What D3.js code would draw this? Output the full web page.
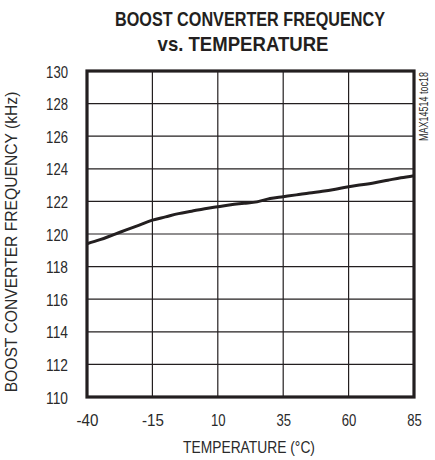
<!DOCTYPE html>
<html><head><meta charset="utf-8">
<script src="https://cdn.jsdelivr.net/npm/d3@7"></script>
<style>
html,body{margin:0;padding:0;background:#fff;}
svg{display:block;}
</style></head>
<body>
<script>
const titleLines = ["BOOST CONVERTER FREQUENCY", "vs. TEMPERATURE"];
const xLabel = "TEMPERATURE (°C)";
const yLabel = "BOOST CONVERTER FREQUENCY (kHz)";
const sideNote = "MAX14514 toc18";
const xTicks = [-40, -15, 10, 35, 60, 85];
const yTicks = [110, 112, 114, 116, 118, 120, 122, 124, 126, 128, 130];
const temps = [-40,-35,-30,-25,-20,-15,-10,-5,0,5,10,15,20,25,30,35,40,45,50,55,60,65,70,75,80,85];
const freqs = [119.4,119.65,119.95,120.25,120.55,120.85,121.05,121.25,121.4,121.55,121.67,121.8,121.88,121.97,122.18,122.29,122.4,122.52,122.62,122.75,122.9,123.02,123.15,123.3,123.45,123.58];

const W = 435, H = 460;
const L = 87, R = 414, T = 71, B = 397;
const svg = d3.select("body").append("svg").attr("width", W).attr("height", H);
const ink = "#231f20";
const fam = "'Liberation Sans',Arial,sans-serif";

const x = d3.scaleLinear().domain([-40, 85]).range([L, R]);
const y = d3.scaleLinear().domain([110, 130]).range([B, T]);

function fitText(parent, str, cx, by, w, size, weight, rot) {
  const t = parent.append("text").attr("text-anchor", "middle")
    .attr("font-family", fam).attr("font-size", size).attr("font-weight", weight || "normal")
    .attr("fill", ink).text(str);
  const nat = t.node().getComputedTextLength();
  const s = w / nat;
  t.attr("transform", `translate(${cx},${by})` + (rot ? ` rotate(${rot})` : "") + ` scale(${s},1)`);
  return t;
}

// Title
fitText(svg, titleLines[0], 250, 26, 270, 21, "bold");
fitText(svg, titleLines[1], 243, 50.5, 171, 21, "bold");

// Grid
const g = svg.append("g");
g.selectAll("line.v").data(xTicks.slice(1, -1)).join("line")
  .attr("x1", d => x(d)).attr("x2", d => x(d)).attr("y1", T).attr("y2", B)
  .attr("stroke", ink).attr("stroke-width", 1.2);
g.selectAll("line.h").data(yTicks.slice(1, -1)).join("line")
  .attr("x1", L).attr("x2", R).attr("y1", d => y(d)).attr("y2", d => y(d))
  .attr("stroke", ink).attr("stroke-width", 1.2);

// Axes (labels only)
const xAxis = svg.append("g").attr("transform", `translate(0,${B})`)
  .call(d3.axisBottom(x).tickValues(xTicks).tickSize(0).tickPadding(17).tickFormat(d => String(d)));
const yAxis = svg.append("g").attr("transform", `translate(${L},0)`)
  .call(d3.axisLeft(y).tickValues(yTicks).tickSize(0).tickPadding(19).tickFormat(d => String(d)));
[xAxis, yAxis].forEach(a => {
  a.select(".domain").remove();
  a.selectAll("text").attr("font-family", fam).attr("font-size", 17).attr("fill", "#2a2a2a")
    .attr("textLength", function () { return this.textContent.length * 7.3; })
    .attr("lengthAdjust", "spacingAndGlyphs");
});
yAxis.selectAll("text").attr("dy", "0.36em");

// Curve
const line = d3.line().x((d, i) => x(temps[i])).y(d => y(d)).curve(d3.curveMonotoneX);
svg.append("path").datum(freqs).attr("d", line)
  .attr("fill", "none").attr("stroke", ink).attr("stroke-width", 3).attr("stroke-linejoin", "round");

// Frame
svg.append("rect").attr("x", L).attr("y", T).attr("width", R - L).attr("height", B - T)
  .attr("fill", "none").attr("stroke", ink).attr("stroke-width", 3.2);

// Axis titles
fitText(svg, xLabel, 249, 453, 132, 17, "normal").attr("fill", "#2a2a2a");
fitText(svg, yLabel, 17, 242, 301, 17, "normal", -90).attr("fill", "#2a2a2a");
svg.append("text").attr("transform", "translate(428,141) rotate(-90)").attr("text-anchor", "start")
  .attr("font-family", fam).attr("font-size", 12).attr("fill", "#2a2a2a")
  .attr("textLength", 69).attr("lengthAdjust", "spacingAndGlyphs").text(sideNote);
</script>
</body></html>
